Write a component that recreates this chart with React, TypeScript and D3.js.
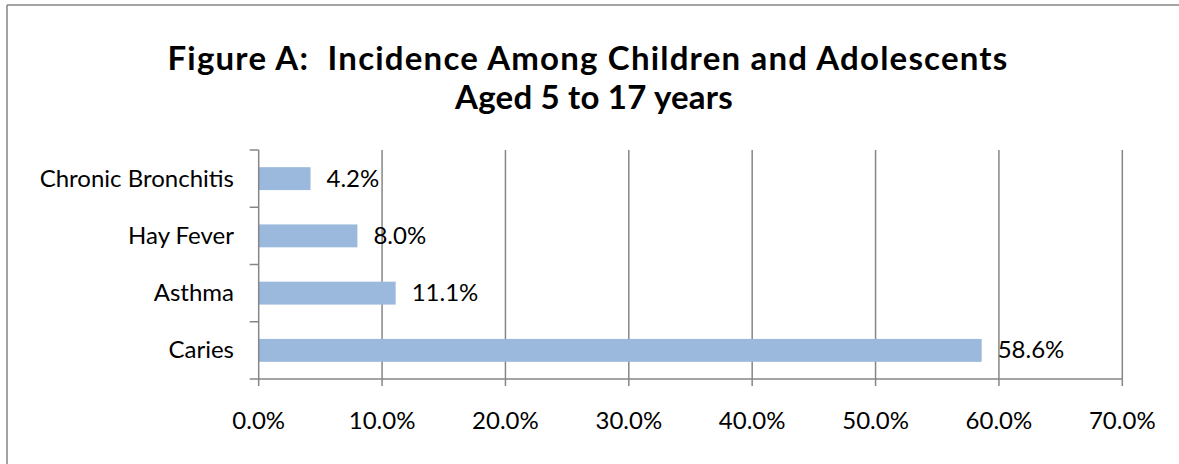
import React from "react";
import * as d3 from "d3";

const categories = ["Chronic Bronchitis", "Hay Fever", "Asthma", "Caries"];
const values = [4.2, 8.0, 11.1, 58.6];
const xTicks = [0, 10, 20, 30, 40, 50, 60, 70];
const titleLines = ["Figure A:  Incidence Among Children and Adolescents", "Aged 5 to 17 years"];
const titleSpacing = [1.2, 0.2];
const titleCenters = [588, 594];

const W = 1179;
const H = 464;
const FONT = "Lato, 'Open Sans', sans-serif";
const AXIS = "#868686";
const BAR = "#9bb8dd";

export default function App() {
  const x = d3.scaleLinear().domain([0, 70]).range([258.7, 1122.3]);
  const y = d3.scaleBand<string>().domain(categories).range([150, 379]).padding(0);
  const step = y.step();
  const barH = step / 2.5;

  return (
    <svg
      width={W}
      height={H}
      style={{ position: "absolute", left: 0, top: 0, background: "#fff" }}
      fontFamily={FONT}
    >
      <rect x={0} y={0} width={W} height={H} fill="#fff" />
      {/* frame (left and top edges visible) */}
      <line x1={7} x2={7} y1={5} y2={H} stroke={AXIS} strokeWidth={1.5} />
      <line x1={7} x2={W} y1={5} y2={5} stroke={AXIS} strokeWidth={1.5} />
      {/* title */}
      {titleLines.map((t, i) => (
        <text
          key={i}
          x={titleCenters[i]}
          y={70 + i * 39}
          textAnchor="middle"
          fontSize={33}
          fontWeight="bold"
          letterSpacing={titleSpacing[i]}
          fill="#000"
          style={{ whiteSpace: "pre" }}
        >
          {t}
        </text>
      ))}
      {/* gridlines */}
      {xTicks.slice(1).map((t) => (
        <line key={"g" + t} x1={x(t)} x2={x(t)} y1={150} y2={379} stroke={AXIS} strokeWidth={1.5} />
      ))}
      {/* bars */}
      {categories.map((c, i) => (
        <rect
          key={c}
          x={x(0)}
          y={(y(c) as number) + (step - barH) / 2}
          width={x(values[i]) - x(0)}
          height={barH}
          fill={BAR}
        />
      ))}
      {/* value labels */}
      {categories.map((c, i) => (
        <text
          key={"v" + c}
          x={x(values[i]) + 16}
          y={(y(c) as number) + step / 2 + 8}
          fontSize={24}
          fill="#000"
        >
          {values[i].toFixed(1) + "%"}
        </text>
      ))}
      {/* y axis */}
      <line x1={x(0)} x2={x(0)} y1={150} y2={379} stroke={AXIS} strokeWidth={1.5} />
      {[...categories.map((c) => y(c) as number), 379].map((v, i) => (
        <line key={"yt" + i} x1={x(0) - 9} x2={x(0)} y1={v} y2={v} stroke={AXIS} strokeWidth={1.5} />
      ))}
      {categories.map((c) => (
        <text
          key={"l" + c}
          x={234}
          y={(y(c) as number) + step / 2 + 8}
          textAnchor="end"
          fontSize={24}
          fill="#000"
        >
          {c}
        </text>
      ))}
      {/* x axis */}
      <line x1={x(0)} x2={x(70)} y1={379} y2={379} stroke={AXIS} strokeWidth={1.5} />
      {xTicks.map((t) => (
        <line key={"xt" + t} x1={x(t)} x2={x(t)} y1={379} y2={386} stroke={AXIS} strokeWidth={1.5} />
      ))}
      {xTicks.map((t) => (
        <text key={"xl" + t} x={x(t)} y={429} textAnchor="middle" fontSize={24} fill="#000">
          {t.toFixed(1) + "%"}
        </text>
      ))}
    </svg>
  );
}
